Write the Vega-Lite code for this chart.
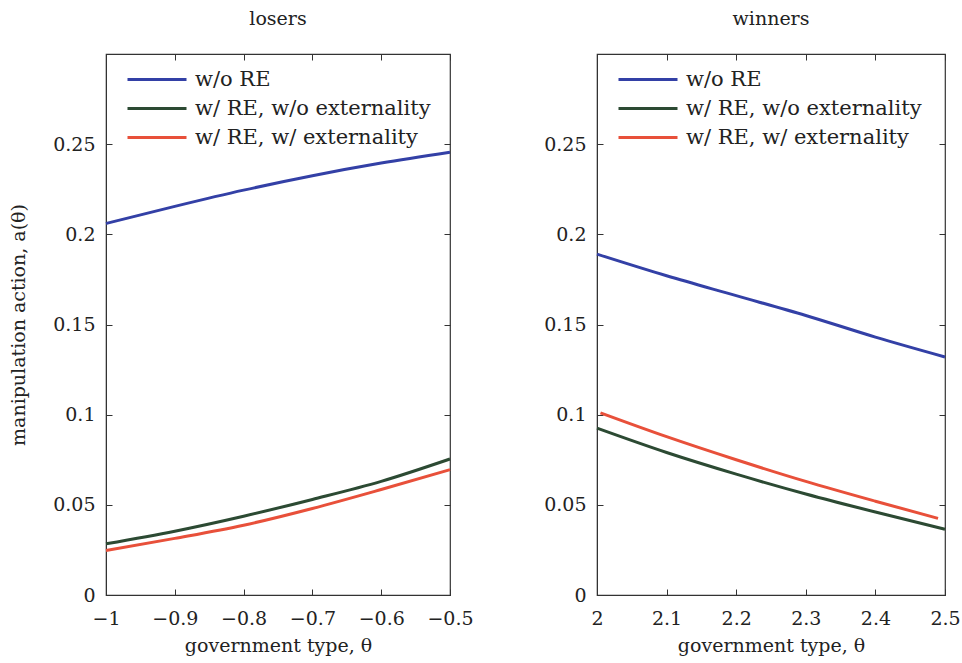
{
  "$schema": "https://vega.github.io/schema/vega-lite/v6.json",
  "padding": {"left": 9, "top": 8, "right": 2, "bottom": 5},
  "background": "white",
  "datasets": {
    "losers": [
      {"theta": -1.0, "a": 0.206, "s": "w/o RE"},
      {"theta": -0.9, "a": 0.2155, "s": "w/o RE"},
      {"theta": -0.8, "a": 0.2245, "s": "w/o RE"},
      {"theta": -0.7, "a": 0.2325, "s": "w/o RE"},
      {"theta": -0.6, "a": 0.2395, "s": "w/o RE"},
      {"theta": -0.5, "a": 0.2455, "s": "w/o RE"},
      {"theta": -1.0, "a": 0.0284, "s": "w/ RE, w/o externality"},
      {"theta": -0.9, "a": 0.0354, "s": "w/ RE, w/o externality"},
      {"theta": -0.8, "a": 0.0437, "s": "w/ RE, w/o externality"},
      {"theta": -0.7, "a": 0.053, "s": "w/ RE, w/o externality"},
      {"theta": -0.6, "a": 0.063, "s": "w/ RE, w/o externality"},
      {"theta": -0.5, "a": 0.0754, "s": "w/ RE, w/o externality"},
      {"theta": -1.0, "a": 0.0247, "s": "w/ RE, w/ externality"},
      {"theta": -0.9, "a": 0.0314, "s": "w/ RE, w/ externality"},
      {"theta": -0.8, "a": 0.0387, "s": "w/ RE, w/ externality"},
      {"theta": -0.7, "a": 0.048, "s": "w/ RE, w/ externality"},
      {"theta": -0.6, "a": 0.0585, "s": "w/ RE, w/ externality"},
      {"theta": -0.5, "a": 0.0695, "s": "w/ RE, w/ externality"}
    ],
    "winners": [
      {"theta": 2.0, "a": 0.189, "s": "w/o RE"},
      {"theta": 2.1, "a": 0.177, "s": "w/o RE"},
      {"theta": 2.2, "a": 0.166, "s": "w/o RE"},
      {"theta": 2.3, "a": 0.155, "s": "w/o RE"},
      {"theta": 2.4, "a": 0.143, "s": "w/o RE"},
      {"theta": 2.5, "a": 0.132, "s": "w/o RE"},
      {"theta": 2.0, "a": 0.0925, "s": "w/ RE, w/o externality"},
      {"theta": 2.1, "a": 0.079, "s": "w/ RE, w/o externality"},
      {"theta": 2.2, "a": 0.067, "s": "w/ RE, w/o externality"},
      {"theta": 2.3, "a": 0.056, "s": "w/ RE, w/o externality"},
      {"theta": 2.4, "a": 0.046, "s": "w/ RE, w/o externality"},
      {"theta": 2.5, "a": 0.0365, "s": "w/ RE, w/o externality"},
      {"theta": 2.005, "a": 0.101, "s": "w/ RE, w/ externality"},
      {"theta": 2.1, "a": 0.0878, "s": "w/ RE, w/ externality"},
      {"theta": 2.2, "a": 0.075, "s": "w/ RE, w/ externality"},
      {"theta": 2.3, "a": 0.063, "s": "w/ RE, w/ externality"},
      {"theta": 2.4, "a": 0.052, "s": "w/ RE, w/ externality"},
      {"theta": 2.49, "a": 0.0425, "s": "w/ RE, w/ externality"}
    ]
  },
  "config": {
    "font": "DejaVu Serif",
    "view": {"stroke": "#333", "strokeWidth": 1.2},
    "axis": {
      "labelFont": "DejaVu Serif", "labelFontSize": 19, "labelColor": "#222",
      "titleFont": "DejaVu Serif", "titleFontSize": 19, "titleColor": "#222", "titleFontWeight": "normal",
      "domainColor": "#333", "tickColor": "#333", "tickSize": -6, "grid": false,
      "labelOverlap": false, "labelBound": false, "labelFlush": false
    },
    "legend": {
      "labelFont": "DejaVu Serif", "labelFontSize": 21, "labelColor": "#222", "labelLimit": 400
    },
    "title": {"font": "DejaVu Serif", "fontSize": 19, "fontWeight": "normal", "color": "#222", "offset": 25}
  },
  "hconcat": [
    {
      "title": "losers",
      "width": 344, "height": 541,
      "data": {"name": "losers"},
      "layer": [
        {
          "mark": {"type": "line", "strokeWidth": 3, "interpolate": "monotone"},
          "encoding": {
            "x": {"field": "theta", "type": "quantitative", "scale": {"domain": [-1, -0.5], "nice": false, "zero": false},
                  "axis": {"orient": "bottom", "values": [-1, -0.9, -0.8, -0.7, -0.6, -0.5], "format": "~g", "title": "government type, θ", "labelPadding": 20, "titlePadding": 8}},
            "y": {"field": "a", "type": "quantitative", "scale": {"domain": [0, 0.3], "nice": false},
                  "axis": {"orient": "left", "values": [0, 0.05, 0.1, 0.15, 0.2, 0.25], "format": "~g", "title": "manipulation action, a(θ)", "labelPadding": 17, "titlePadding": 24}},
            "color": {"field": "s", "type": "nominal",
                      "scale": {"domain": ["w/o RE", "w/ RE, w/o externality", "w/ RE, w/ externality"], "range": ["#3340a6", "#2c4a33", "#e8503a"]},
                      "legend": {"orient": "top-left", "title": null, "symbolType": "M-0.4,0H5.5", "symbolSize": 400, "symbolStrokeWidth": 3, "offset": 14, "rowPadding": 7, "labelOffset": 52}}
          }
        },
        {
          "mark": {"type": "line", "opacity": 0},
          "encoding": {
            "x": {"field": "theta", "type": "quantitative", "axis": {"orient": "top", "values": [-1, -0.9, -0.8, -0.7, -0.6, -0.5], "labels": false, "title": null, "domain": false}},
            "y": {"field": "a", "type": "quantitative", "axis": {"orient": "right", "values": [0, 0.05, 0.1, 0.15, 0.2, 0.25], "labels": false, "title": null, "domain": false}}
          }
        }
      ],
      "resolve": {"axis": {"x": "independent", "y": "independent"}}
    },
    {
      "title": "winners",
      "width": 348, "height": 541,
      "data": {"name": "winners"},
      "layer": [
        {
          "mark": {"type": "line", "strokeWidth": 3, "interpolate": "monotone"},
          "encoding": {
            "x": {"field": "theta", "type": "quantitative", "scale": {"domain": [2, 2.5], "nice": false, "zero": false},
                  "axis": {"orient": "bottom", "values": [2, 2.1, 2.2, 2.3, 2.4, 2.5], "format": "~g", "title": "government type, θ", "labelPadding": 20, "titlePadding": 8}},
            "y": {"field": "a", "type": "quantitative", "scale": {"domain": [0, 0.3], "nice": false},
                  "axis": {"orient": "left", "values": [0, 0.05, 0.1, 0.15, 0.2, 0.25], "format": "~g", "title": null, "labelPadding": 17}},
            "color": {"field": "s", "type": "nominal",
                      "scale": {"domain": ["w/o RE", "w/ RE, w/o externality", "w/ RE, w/ externality"], "range": ["#3340a6", "#2c4a33", "#e8503a"]},
                      "legend": {"orient": "top-left", "title": null, "symbolType": "M-0.4,0H5.5", "symbolSize": 400, "symbolStrokeWidth": 3, "offset": 14, "rowPadding": 7, "labelOffset": 52}}
          }
        },
        {
          "mark": {"type": "line", "opacity": 0},
          "encoding": {
            "x": {"field": "theta", "type": "quantitative", "axis": {"orient": "top", "values": [2, 2.1, 2.2, 2.3, 2.4, 2.5], "labels": false, "title": null, "domain": false}},
            "y": {"field": "a", "type": "quantitative", "axis": {"orient": "right", "values": [0, 0.05, 0.1, 0.15, 0.2, 0.25], "labels": false, "title": null, "domain": false}}
          }
        }
      ],
      "resolve": {"axis": {"x": "independent", "y": "independent"}}
    }
  ],
  "spacing": 69,
  "resolve": {"legend": {"color": "independent"}}
}
